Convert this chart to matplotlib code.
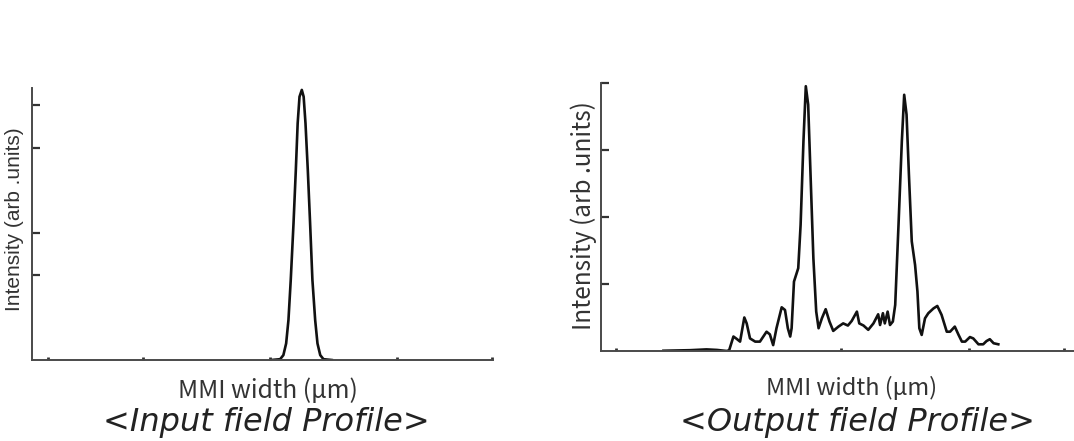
import matplotlib
matplotlib.use('Agg')
import matplotlib.pyplot as plt

# input field profile: single peak (x: MMI width, arbitrary units 0-100)
in_x = [51.9, 53.8, 54.5, 55.1, 55.6, 56.1, 56.7, 57.2, 57.6, 58.0, 58.5,
        58.9, 59.3, 59.8, 60.3, 60.8, 61.4, 61.9, 62.5, 63.2, 65.0]
in_y = [0.0, 0.3, 1.8, 6.1, 14.7, 29.5, 50.3, 69.9, 87.1, 96.9, 99.4,
        96.9, 87.1, 69.9, 50.3, 29.5, 14.7, 6.1, 1.8, 0.3, 0.0]

# output field profile: two images plus ripple
out_x = [13.2, 18.8, 22.3, 24.5, 26.6, 27.1, 28.0, 28.7, 29.4, 30.3, 30.8,
         31.5, 32.6, 33.6, 35.0, 35.7, 36.4, 37.1, 38.2, 38.9, 39.5, 40.0,
         40.3, 40.8, 41.7, 42.2, 42.8, 43.3, 43.8, 44.3, 44.9, 45.5, 46.0,
         46.7, 47.5, 48.3, 49.1, 50.2, 51.2, 52.2, 53.0, 54.1, 54.6, 55.5,
         56.5, 57.6, 58.6, 59.0, 59.6, 60.0, 60.6, 61.1, 61.7, 62.2, 62.9,
         63.6, 64.1, 64.6, 65.1, 65.7, 66.4, 66.9, 67.3, 67.8, 68.5, 69.2,
         70.3, 71.1, 72.0, 73.1, 73.8, 74.8, 75.6, 76.3, 77.0, 78.0, 78.7,
         79.8, 80.8, 81.5, 82.2, 83.0, 84.0]
out_y = [0.1, 0.3, 0.6, 0.4, 0.0, 0.3, 5.4, 4.5, 3.5, 12.5, 10.3,
         4.7, 3.5, 3.5, 7.2, 6.2, 2.2, 8.5, 16.3, 15.3, 8.5, 5.4,
         8.5, 25.9, 30.9, 47.1, 78.2, 98.8, 91.9, 65.8, 34.6, 14.7, 8.5,
         12.2, 15.6, 11.0, 7.5, 9.1, 10.3, 9.5, 11.2, 14.7, 10.3, 9.5,
         7.9, 10.3, 13.7, 9.7, 14.1, 10.3, 14.7, 9.7, 11.0, 17.2, 47.1,
         78.2, 95.6, 88.2, 65.8, 40.9, 32.1, 22.2, 8.5, 6.0, 12.2, 14.1,
         15.9, 16.8, 13.5, 7.2, 7.2, 9.1, 6.0, 3.5, 3.5, 5.2, 4.7,
         2.5, 2.5, 3.7, 4.4, 2.9, 2.5]

in_xticks = [3.3, 24.1, 51.6, 79.2, 99.7]
in_yticks = [31.3, 46.6, 77.9, 93.9]
out_xticks = [3.2, 50.7, 77.7, 97.8]
out_yticks = [24.9, 50.0, 75.1, 100.0]

xlabel = 'MMI width (\u03bcm)'
ylabel = 'Intensity (arb .units)'

plt.rcParams['font.family'] = ['Noto Sans CJK KR', 'DejaVu Sans']

W, H = 1074, 441
fig = plt.figure(figsize=(W / 100, H / 100), dpi=100)


def style_axes(ax, xticks, yticks):
    ax.set_xlim(0, 100)
    ax.set_ylim(0, 100)
    for side in ['top', 'right']:
        ax.spines[side].set_visible(False)
    for side in ['left', 'bottom']:
        ax.spines[side].set_color('#4a4a4a')
        ax.spines[side].set_linewidth(1.4)
    ax.set_xticks(xticks)
    ax.set_yticks(yticks)
    ax.tick_params(axis='y', direction='in', length=5.5, width=1.6,
                   color='#333333', labelleft=False)
    ax.tick_params(axis='x', direction='in', length=2.5, width=2,
                   color='#333333', labelbottom=False)


# left: input profile
ax1 = fig.add_axes([32.3 / W, 1 - 360 / H, (493 - 32.3) / W, (360 - 88.3) / H])
ax1.plot(in_x, in_y, color='#111111', lw=1.9, solid_joinstyle='round')
style_axes(ax1, in_xticks, in_yticks)

# right: output profile
ax2 = fig.add_axes([601 / W, 1 - 351 / H, (W - 601) / W, (351 - 83) / H])
ax2.plot(out_x, out_y, color='#111111', lw=1.9, solid_joinstyle='round')
style_axes(ax2, out_xticks, out_yticks)

# labels
fig.text(15 / W, 1 - 219 / H, ylabel, rotation=90, ha='center', va='center',
         fontsize=15, color='#333333', family=['Liberation Sans', 'DejaVu Sans'])
fig.text(584 / W, 1 - 216 / H, ylabel, rotation=90, ha='center', va='center',
         fontsize=17.5, color='#333333')

fig.text(268 / W, 1 - 391 / H, xlabel, ha='center', va='center',
         fontsize=17.8, color='#333333')
fig.text(852 / W, 1 - 388 / H, xlabel, ha='center', va='center',
         fontsize=17, color='#333333')

fig.text(266 / W, 1 - 423 / H, '<Input field Profile>', ha='center', va='center',
         fontsize=23, color='#222222', style='italic', family='DejaVu Sans')
fig.text(858 / W, 1 - 422 / H, '<Output field Profile>', ha='center', va='center',
         fontsize=23, color='#222222', style='italic', family='DejaVu Sans')

fig.savefig('out.png', dpi=100)
